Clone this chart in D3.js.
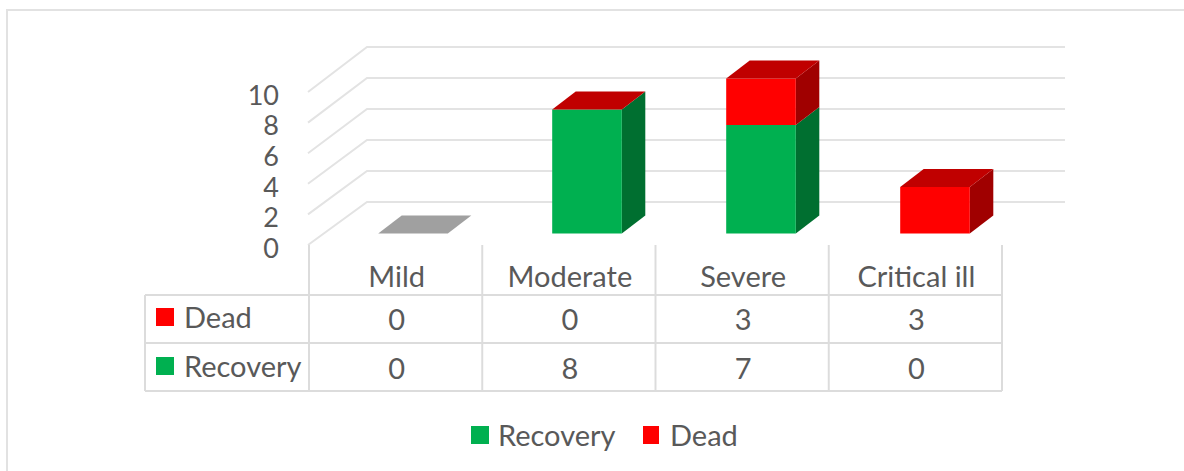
<!DOCTYPE html>
<html>
<head>
<meta charset="utf-8">
<script src="https://cdn.jsdelivr.net/npm/d3@7"></script>
<style>
body { margin: 0; background: #fff; }
text { font-family: Lato, sans-serif; fill: #595959; }
</style>
</head>
<body>
<div id="chart"></div>
<script>
var categories = ["Mild", "Moderate", "Severe", "Critical ill"];
var recovery = [0, 8, 7, 0];
var dead = [0, 0, 3, 3];
var yTicks = [0, 2, 4, 6, 8, 10];

var w = 1184, h = 471;
var fontSize = 29, tickFontSize = 27;
var green = "#00b050", greenSide = "#006f30";
var red = "#ff0000", redTop = "#c00000", redSide = "#a00000";
var gridColor = "#e3e3e3", tableColor = "#dcdcdc";
var depthX = 23.5, depthY = 18;

var svg = d3.select("#chart").append("svg")
    .attr("width", w)
    .attr("height", h)
    .style("display", "block");

// outer chart frame, only top and left fall inside the picture
svg.append("polyline")
    .attr("points", [[7, h], [7, 10], [w, 10]].join(" "))
    .attr("fill", "none")
    .attr("stroke", "#e2e2e2")
    .attr("stroke-width", 2);

// table columns and bars do not share quite the same step in the picture
var xScale = d3.scaleBand()
    .domain(categories)
    .range([309, 1002]);

var xBar = d3.scaleBand()
    .domain(categories)
    .range([326, 1022])
    .paddingInner(0.6)
    .paddingOuter(0.3);

// same values, three depths of the fake 3d box
var yFront = d3.scaleLinear().domain([0, 10]).range([245, 92]);
var yBack = d3.scaleLinear().domain([0, 10]).range([202, 47]);
var yBar = d3.scaleLinear().domain([0, 10]).range([233.5, 78.5]);

var backLeft = 367, backRight = 1065;

var grid = svg.append("g")
    .attr("fill", "none")
    .attr("stroke", gridColor)
    .attr("stroke-width", 2);

yTicks.forEach(function (t) {
    grid.append("polyline")
        .attr("points", [[308, yFront(t)], [backLeft, yBack(t)], [backRight, yBack(t)]].join(" "));
});

svg.selectAll(".ytick")
    .data(yTicks)
    .enter().append("text")
    .attr("class", "ytick")
    .attr("x", 279)
    .attr("y", function (d) { return yFront(d) + 3; })
    .attr("dy", "0.36em")
    .attr("text-anchor", "end")
    .attr("font-size", tickFontSize)
    .text(function (d) { return d; });

function drawSegment(x, bw, v0, v1, front, side) {
    svg.append("path")
        .attr("d", "M" + (x + bw) + "," + yBar(v0) + "L" + (x + bw + depthX) + "," + (yBar(v0) - depthY)
            + "L" + (x + bw + depthX) + "," + (yBar(v1) - depthY) + "L" + (x + bw) + "," + yBar(v1) + "Z")
        .attr("fill", side);
    svg.append("rect")
        .attr("x", x)
        .attr("y", yBar(v1))
        .attr("width", bw)
        .attr("height", yBar(v0) - yBar(v1))
        .attr("fill", front);
}

function drawTop(x, bw, v, color) {
    svg.append("path")
        .attr("d", "M" + x + "," + yBar(v) + "L" + (x + depthX) + "," + (yBar(v) - depthY)
            + "L" + (x + bw + depthX) + "," + (yBar(v) - depthY) + "L" + (x + bw) + "," + yBar(v) + "Z")
        .attr("fill", color);
}

categories.forEach(function (c, i) {
    var x = xBar(c);
    var barW = xBar.bandwidth();
    var total = recovery[i] + dead[i];
    if (recovery[i] > 0) drawSegment(x, barW, 0, recovery[i], green, greenSide);
    if (dead[i] > 0) drawSegment(x, barW, recovery[i], total, red, redSide);
    // empty category just shows a flat grey lid
    drawTop(x, barW, total, total == 0 ? "#a0a0a0" : redTop);
});

// data table
var rowY = [295, 343, 391];
var colX = [145].concat(categories.map(function (c) { return xScale(c); }));
colX.push(1002);

var table = svg.append("g")
    .attr("stroke", tableColor)
    .attr("stroke-width", 2);

rowY.forEach(function (y) {
    table.append("line").attr("x1", 145).attr("x2", 1002).attr("y1", y).attr("y2", y);
});
colX.forEach(function (x, i) {
    table.append("line")
        .attr("x1", x)
        .attr("x2", x)
        .attr("y1", i == 0 ? 295 : 245)
        .attr("y2", 391);
});

function cellX(c) {
    return xScale(c) + xScale.bandwidth() / 2 + 1;
}

svg.selectAll(".cat")
    .data(categories)
    .enter().append("text")
    .attr("class", "cat")
    .attr("x", cellX)
    .attr("y", 277)
    .attr("dy", "0.36em")
    .attr("text-anchor", "middle")
    .attr("font-size", fontSize)
    .text(function (d) { return d; });

function tableRow(name, values, color, cy) {
    svg.append("rect")
        .attr("x", 156).attr("y", cy - 10)
        .attr("width", 18).attr("height", 18)
        .attr("fill", color);
    svg.append("text")
        .attr("x", 184).attr("y", cy)
        .attr("dy", "0.36em")
        .attr("font-size", fontSize)
        .text(name);
    values.forEach(function (v, i) {
        svg.append("text")
            .attr("x", cellX(categories[i]))
            .attr("y", cy + 1.5)
            .attr("dy", "0.36em")
            .attr("text-anchor", "middle")
            .attr("font-size", fontSize)
            .text(v);
    });
}
tableRow("Dead", dead, red, 318);
tableRow("Recovery", recovery, green, 367);

// legend
svg.append("rect").attr("x", 471).attr("y", 426).attr("width", 18).attr("height", 18).attr("fill", green);
svg.append("text").attr("x", 498).attr("y", 436).attr("dy", "0.36em").attr("font-size", fontSize).text("Recovery");
svg.append("rect").attr("x", 643).attr("y", 426).attr("width", 16).attr("height", 18).attr("fill", red);
svg.append("text").attr("x", 670).attr("y", 436).attr("dy", "0.36em").attr("font-size", fontSize).text("Dead");
</script>
</body>
</html>
